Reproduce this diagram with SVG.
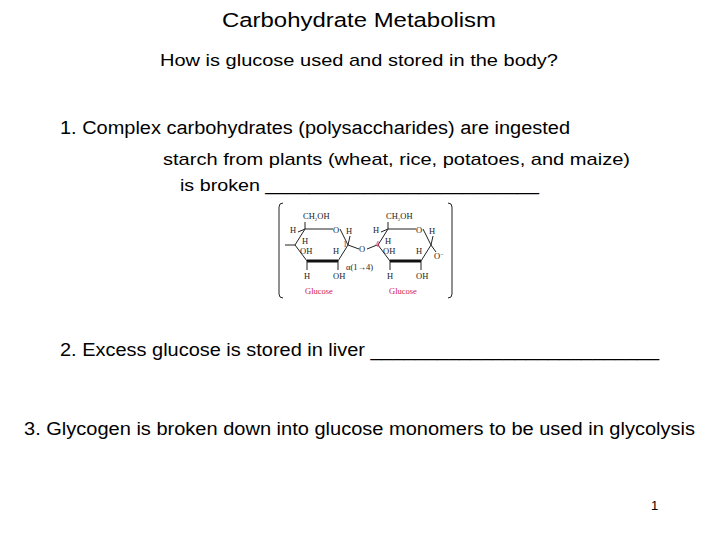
<svg xmlns="http://www.w3.org/2000/svg" width="720" height="540" viewBox="0 0 720 540">
<style>
.t{font-family:"Liberation Sans",Arial,sans-serif;fill:#000}
.c{font-family:"Liberation Serif","Times New Roman",serif;font-size:8.5px;fill:#222}
.r{font-family:"Liberation Serif","Times New Roman",serif;font-size:8.5px;fill:#d0204a}
.b{fill:none;stroke:#222;stroke-width:1}
</style>
<rect width="720" height="540" fill="#fff"/>
<text class="t" x="222" y="27" font-size="20.5" textLength="274" lengthAdjust="spacingAndGlyphs">Carbohydrate Metabolism</text>
<text class="t" x="160" y="66" font-size="17" textLength="398" lengthAdjust="spacingAndGlyphs">How is glucose used and stored in the body?</text>
<text class="t" x="60" y="134" font-size="18" textLength="510" lengthAdjust="spacingAndGlyphs">1. Complex carbohydrates (polysaccharides) are ingested</text>
<text class="t" x="163" y="165" font-size="17" textLength="467" lengthAdjust="spacingAndGlyphs">starch from plants (wheat, rice, potatoes, and maize)</text>
<text class="t" x="180" y="191" font-size="17" textLength="359" lengthAdjust="spacingAndGlyphs">is broken _________________________</text>
<text class="t" x="60" y="356" font-size="18" textLength="599" lengthAdjust="spacingAndGlyphs">2. Excess glucose is stored in liver __________________________</text>
<text class="t" x="24" y="435" font-size="18" textLength="671" lengthAdjust="spacingAndGlyphs">3. Glycogen is broken down into glucose monomers to be used in glycolysis</text>
<text class="t" x="651" y="510" font-size="13">1</text>
<g id="structure">
<path class="b" d="M283,203 Q279,203 279,207 L279,294 Q279,298 283,298 M448,203 Q452,203 452,207 L452,294 Q452,298 448,298"/>
<g id="ring1">
<text class="c" x="303" y="219">CH<tspan font-size="5" dy="2">2</tspan><tspan dy="-2">OH</tspan></text>
<path class="b" d="M305,222 L305,229 L333,229 M340,229 L348,245 L338,261 M307,261 L295,245 L305,229 M348,245 L359,249 M367,249 L377,245"/>
<path d="M307,261 L338,261" stroke="#111" stroke-width="3"/>
<text class="c" x="333" y="233">O</text>
<text class="c" x="290" y="233">H</text>
<text class="c" x="302" y="244">H</text>
<text class="c" x="300" y="254">OH</text>
<text class="c" x="333" y="254">H</text>
<text class="c" x="346" y="234">H</text>
<text class="r" x="343" y="247" font-size="6">1</text>
<path class="b" d="M285,245 L295,245 M307,261 L307,270 M338,261 L338,270 M348,245 L350,236 M305,229 L298,232"/>
<text class="c" x="304" y="279">H</text>
<text class="c" x="333" y="279">OH</text>
<text class="r" x="305" y="294">Glucose</text>
<text class="c" x="346" y="270">α(1→4)</text>
<text class="c" x="359" y="252">O</text>
</g>
<g id="ring2">
<text class="c" x="386" y="219">CH<tspan font-size="5" dy="2">2</tspan><tspan dy="-2">OH</tspan></text>
<path class="b" d="M388,222 L388,229 L416,229 M423,229 L431,245 L421,261 M390,261 L378,245 L388,229 M431,245 L436,252 M388,229 L381,232 M431,245 L433,236 M390,261 L390,270 M421,261 L421,270"/>
<path d="M390,261 L421,261" stroke="#111" stroke-width="3"/>
<text class="c" x="416" y="233">O</text>
<text class="c" x="373" y="233">H</text>
<text class="c" x="385" y="244">H</text>
<text class="c" x="383" y="254">OH</text>
<text class="c" x="416" y="254">H</text>
<text class="c" x="429" y="234">H</text>
<text class="r" x="375" y="247" font-size="6">4</text>
<text class="c" x="434" y="259">O<tspan dy="-3" font-size="6">−</tspan></text>
<text class="c" x="387" y="279">H</text>
<text class="c" x="416" y="279">OH</text>
<text class="r" x="389" y="294">Glucose</text>
</g>
</g>
</svg>
